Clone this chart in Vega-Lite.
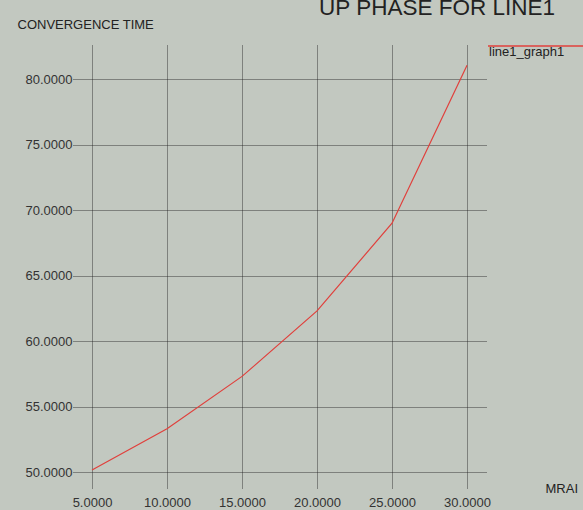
{
  "$schema": "https://vega.github.io/schema/vega-lite/v6.json",
  "autosize": {"type": "none"},
  "width": 414,
  "height": 443,
  "padding": {"left": 73, "top": 45, "right": 96, "bottom": 22},
  "background": "#c2c8c0",
  "title": {
    "text": "UP PHASE FOR LINE1",
    "orient": "top",
    "anchor": "end",
    "frame": "group",
    "font": "Liberation Sans, sans-serif",
    "fontSize": 22.5,
    "fontWeight": "normal",
    "color": "#222222",
    "baseline": "alphabetic",
    "offset": 0,
    "dx": 68,
    "dy": 40
  },
  "data": {
    "values": [
      {"mrai": 5, "time": 50.15, "series": "line1_graph1"},
      {"mrai": 10, "time": 53.3, "series": "line1_graph1"},
      {"mrai": 15, "time": 57.3, "series": "line1_graph1"},
      {"mrai": 20, "time": 62.3, "series": "line1_graph1"},
      {"mrai": 25, "time": 69.0, "series": "line1_graph1"},
      {"mrai": 30, "time": 81.05, "series": "line1_graph1"}
    ]
  },
  "mark": {"type": "line", "strokeWidth": 1.2, "clip": false},
  "encoding": {
    "x": {
      "field": "mrai",
      "type": "quantitative",
      "scale": {"domain": [3.733, 31.33], "nice": false, "zero": false},
      "axis": {
        "values": [5, 10, 15, 20, 25, 30],
        "format": ".4f",
        "title": "MRAI",
        "titleX": 472,
        "titleY": 0,
        "titleAlign": "left",
        "titleBaseline": "middle",
        "titleAnchor": null
      }
    },
    "y": {
      "field": "time",
      "type": "quantitative",
      "scale": {"domain": [48.78, 82.6], "nice": false, "zero": false},
      "axis": {
        "values": [50, 55, 60, 65, 70, 75, 80],
        "format": ".4f",
        "title": "CONVERGENCE TIME",
        "titleAngle": 0,
        "titleX": -56,
        "titleY": -21,
        "titleAlign": "left",
        "titleBaseline": "middle",
        "titleAnchor": null
      }
    },
    "color": {
      "field": "series",
      "type": "nominal",
      "scale": {"range": ["#e0403c"]},
      "legend": {
        "title": null,
        "orient": "none",
        "legendX": 414,
        "legendY": -48,
        "padding": 0,
        "symbolType": "stroke",
        "symbolSize": 9216,
        "symbolStrokeWidth": 1.5,
        "labelOffset": -96,
        "labelBaseline": "top",
        "labelFont": "Liberation Sans, sans-serif",
        "labelFontSize": 13,
        "labelColor": "#222222"
      }
    }
  },
  "config": {
    "view": {"stroke": null},
    "axis": {
      "domain": false,
      "ticks": false,
      "grid": true,
      "gridColor": "#222222",
      "gridDash": [1, 1],
      "gridWidth": 1,
      "gridOpacity": 0.85,
      "labelFont": "Liberation Sans, sans-serif",
      "labelFontSize": 13,
      "labelColor": "#333333",
      "titleFont": "Liberation Sans, sans-serif",
      "titleFontSize": 13,
      "titleFontWeight": "normal",
      "titleColor": "#222222"
    },
    "axisX": {"labelPadding": 8},
    "axisY": {"labelPadding": 1}
  }
}
